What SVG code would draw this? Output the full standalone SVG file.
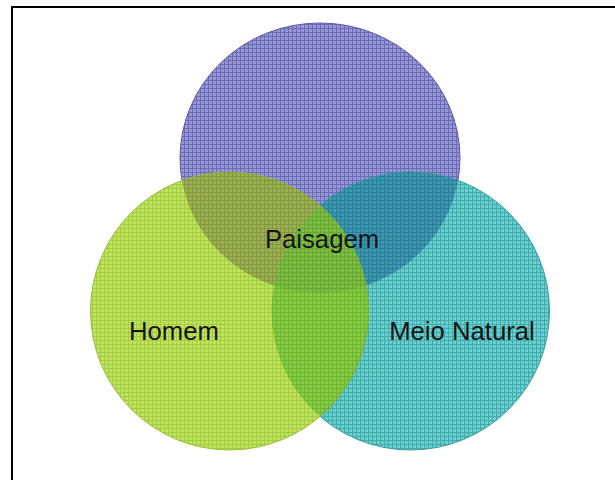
<svg xmlns="http://www.w3.org/2000/svg" width="615" height="480" viewBox="0 0 615 480">
  <defs>
    <pattern id="gp" width="4" height="4" patternUnits="userSpaceOnUse">
      <rect width="4" height="4" fill="#9696d8"/>
      <path d="M0 0.5H4M0.5 0V4" stroke="#6c6cb4" stroke-width="1"/>
    </pattern>
    <pattern id="gg" width="4" height="4" patternUnits="userSpaceOnUse">
      <rect width="4" height="4" fill="#c0e25c"/>
      <path d="M0 0.5H4M0.5 0V4" stroke="#a2cc42" stroke-width="1"/>
    </pattern>
    <pattern id="gt" width="4" height="4" patternUnits="userSpaceOnUse">
      <rect width="4" height="4" fill="#68cece"/>
      <path d="M0 0.5H4M0.5 0V4" stroke="#42acac" stroke-width="1"/>
    </pattern>
    <pattern id="gpg" width="4" height="4" patternUnits="userSpaceOnUse">
      <rect width="4" height="4" fill="#9cae52"/>
      <path d="M0 0.5H4M0.5 0V4" stroke="#83983e" stroke-width="1"/>
    </pattern>
    <pattern id="gpt" width="4" height="4" patternUnits="userSpaceOnUse">
      <rect width="4" height="4" fill="#3e98b0"/>
      <path d="M0 0.5H4M0.5 0V4" stroke="#2a7e9a" stroke-width="1"/>
    </pattern>
    <pattern id="ggt" width="4" height="4" patternUnits="userSpaceOnUse">
      <rect width="4" height="4" fill="#86cc44"/>
      <path d="M0 0.5H4M0.5 0V4" stroke="#6eb432" stroke-width="1"/>
    </pattern>
    <pattern id="gall" width="4" height="4" patternUnits="userSpaceOnUse">
      <rect width="4" height="4" fill="#7ebd44"/>
      <path d="M0 0.5H4M0.5 0V4" stroke="#68a632" stroke-width="1"/>
    </pattern>
    <clipPath id="cP"><ellipse cx="320" cy="158" rx="140" ry="135"/></clipPath>
    <clipPath id="cT"><ellipse cx="410.5" cy="311" rx="139" ry="139"/></clipPath>
    <clipPath id="cG"><ellipse cx="229.5" cy="311" rx="139" ry="139"/></clipPath>
  </defs>
  <style>
    .lbl { font-family: "Liberation Sans", Arial, sans-serif; font-size: 25.7px; fill: #141414; text-anchor: middle; }
    .ov { stroke: none; }
  </style>
  <rect width="615" height="480" fill="#ffffff"/>
  <path d="M12 480V7H615" fill="none" stroke="#000" stroke-width="2"/>
  <g id="node-paisagem-circle">
    <ellipse cx="320" cy="158" rx="140" ry="135" fill="url(#gp)" stroke="#5a5aa2" stroke-width="1"/>
  </g>
  <g id="node-meio-natural">
    <ellipse cx="410.5" cy="311" rx="139" ry="139" fill="url(#gt)" stroke="#3a9c9c" stroke-width="1"/>
  </g>
  <g id="node-homem">
    <ellipse cx="229.5" cy="311" rx="139" ry="139" fill="url(#gg)" stroke="#96c03e" stroke-width="1"/>
  </g>
  <g id="overlaps">
    <g clip-path="url(#cP)">
      <ellipse class="ov" cx="410.5" cy="311" rx="139" ry="139" fill="url(#gpt)"/>
      <ellipse class="ov" cx="229.5" cy="311" rx="139" ry="139" fill="url(#gpg)"/>
    </g>
    <g clip-path="url(#cT)">
      <ellipse cx="229.5" cy="311" rx="139" ry="139" fill="url(#ggt)" stroke="#78b03a" stroke-width="1"/>
      <g clip-path="url(#cP)">
        <ellipse class="ov" cx="229.5" cy="311" rx="139" ry="139" fill="url(#gall)"/>
      </g>
    </g>
  </g>
  <g id="labels">
    <text class="lbl" x="322" y="248">Paisagem</text>
    <text class="lbl" x="174" y="340">Homem</text>
    <text class="lbl" x="462" y="340">Meio Natural</text>
  </g>
</svg>
